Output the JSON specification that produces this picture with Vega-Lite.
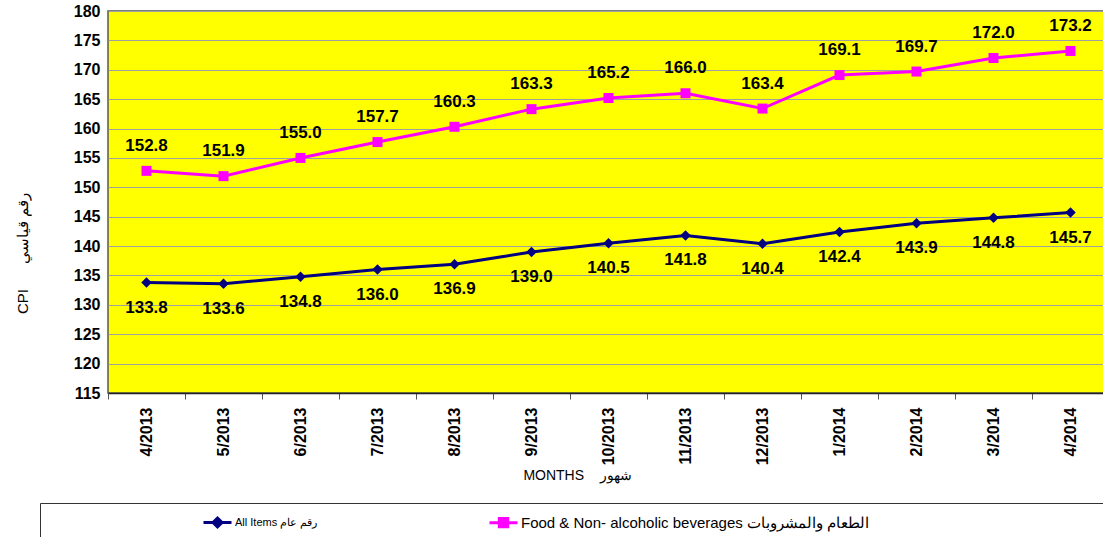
{
  "$schema": "https://vega.github.io/schema/vega-lite/v6.json",
  "autosize": {"type": "none"},
  "padding": {"left": 108, "top": 11, "right": 0, "bottom": 144},
  "width": 1001,
  "height": 382,
  "background": "white",
  "config": {
    "font": "Liberation Sans",
    "view": {"fill": "#FFFF00", "stroke": "#555555", "strokeWidth": 1.5}
  },
  "data": {
    "values": [
      {"month": "4/2013", "series": "All Items رقم عام", "value": 133.8},
      {"month": "5/2013", "series": "All Items رقم عام", "value": 133.6},
      {"month": "6/2013", "series": "All Items رقم عام", "value": 134.8},
      {"month": "7/2013", "series": "All Items رقم عام", "value": 136.0},
      {"month": "8/2013", "series": "All Items رقم عام", "value": 136.9},
      {"month": "9/2013", "series": "All Items رقم عام", "value": 139.0},
      {"month": "10/2013", "series": "All Items رقم عام", "value": 140.5},
      {"month": "11/2013", "series": "All Items رقم عام", "value": 141.8},
      {"month": "12/2013", "series": "All Items رقم عام", "value": 140.4},
      {"month": "1/2014", "series": "All Items رقم عام", "value": 142.4},
      {"month": "2/2014", "series": "All Items رقم عام", "value": 143.9},
      {"month": "3/2014", "series": "All Items رقم عام", "value": 144.8},
      {"month": "4/2014", "series": "All Items رقم عام", "value": 145.7},
      {"month": "4/2013", "series": "Food & Non- alcoholic  beverages  الطعام والمشروبات", "value": 152.8},
      {"month": "5/2013", "series": "Food & Non- alcoholic  beverages  الطعام والمشروبات", "value": 151.9},
      {"month": "6/2013", "series": "Food & Non- alcoholic  beverages  الطعام والمشروبات", "value": 155.0},
      {"month": "7/2013", "series": "Food & Non- alcoholic  beverages  الطعام والمشروبات", "value": 157.7},
      {"month": "8/2013", "series": "Food & Non- alcoholic  beverages  الطعام والمشروبات", "value": 160.3},
      {"month": "9/2013", "series": "Food & Non- alcoholic  beverages  الطعام والمشروبات", "value": 163.3},
      {"month": "10/2013", "series": "Food & Non- alcoholic  beverages  الطعام والمشروبات", "value": 165.2},
      {"month": "11/2013", "series": "Food & Non- alcoholic  beverages  الطعام والمشروبات", "value": 166.0},
      {"month": "12/2013", "series": "Food & Non- alcoholic  beverages  الطعام والمشروبات", "value": 163.4},
      {"month": "1/2014", "series": "Food & Non- alcoholic  beverages  الطعام والمشروبات", "value": 169.1},
      {"month": "2/2014", "series": "Food & Non- alcoholic  beverages  الطعام والمشروبات", "value": 169.7},
      {"month": "3/2014", "series": "Food & Non- alcoholic  beverages  الطعام والمشروبات", "value": 172.0},
      {"month": "4/2014", "series": "Food & Non- alcoholic  beverages  الطعام والمشروبات", "value": 173.2}
    ]
  },
  "encoding": {
    "x": {
      "field": "month",
      "type": "nominal",
      "sort": ["4/2013", "5/2013", "6/2013", "7/2013", "8/2013", "9/2013", "10/2013", "11/2013", "12/2013", "1/2014", "2/2014", "3/2014", "4/2014"],
      "scale": {"paddingInner": 0, "paddingOuter": 0},
      "axis": {
        "title": "MONTHS\u00a0\u00a0\u00a0\u00a0شهور",
        "titleFont": "Liberation Sans",
        "titleFontSize": 14,
        "titleFontWeight": "normal",
        "titleColor": "black",
        "titleX": 469,
        "titleY": 82,
        "titleAlign": "center",
        "titleBaseline": "middle",
        "labelAngle": -90,
        "labelFont": "Liberation Sans",
        "labelFontSize": 16,
        "labelFontWeight": "bold",
        "labelColor": "black",
        "labelPadding": 8,
        "tickBand": "extent",
        "tickColor": "#555555",
        "tickSize": 6,
        "domainColor": "#222222",
        "domainWidth": 1.5,
        "grid": false
      }
    },
    "y": {
      "field": "value",
      "type": "quantitative",
      "scale": {"domain": [115, 180], "nice": false, "zero": false},
      "axis": {
        "values": [115, 120, 125, 130, 135, 140, 145, 150, 155, 160, 165, 170, 175, 180],
        "title": "CPI\u00a0\u00a0\u00a0\u00a0\u00a0\u00a0رقم قياسي",
        "titleFont": "Liberation Sans",
        "titleFontSize": 15,
        "titleFontWeight": "normal",
        "titleColor": "black",
        "titleX": -86,
        "titleY": 242,
        "titleAlign": "center",
        "titleBaseline": "middle",
        "labelFont": "Liberation Sans",
        "labelFontSize": 16,
        "labelFontWeight": "bold",
        "labelColor": "black",
        "labelPadding": 8,
        "ticks": false,
        "domain": false,
        "grid": true,
        "gridColor": "#A0A0A0",
        "gridWidth": 1
      }
    }
  },
  "layer": [
    {
      "mark": {"type": "line", "strokeWidth": 3},
      "encoding": {
        "color": {
          "field": "series",
          "type": "nominal",
          "scale": {
            "domain": ["All Items رقم عام", "Food & Non- alcoholic  beverages  الطعام والمشروبات"],
            "range": ["#000080", "#FF00FF"]
          },
          "legend": {
            "orient": "none",
            "legendX": -68,
            "legendY": 492,
            "direction": "horizontal",
            "title": " ",
            "titleOrient": "right",
            "titlePadding": 223,
            "titleFontSize": 10,
            "strokeColor": "#333333",
            "fillColor": "white",
            "padding": 4,
            "columnPadding": 12,
            "symbolSize": 784,
            "symbolStrokeWidth": 3,
            "symbolOffset": 158,
            "labelOffset": 2,
            "labelFont": "Liberation Sans",
            "labelFontWeight": "normal",
            "labelColor": "black",
            "labelLimit": 2000,
            "encode": {
              "symbols": {
                "update": {
                  "shape": {"signal": "datum.value == 'All Items رقم عام' ? 'M-1,0L1,0M0,-0.32L0.32,0L0,0.32L-0.32,0Z' : 'M-1,0L1,0M-0.3,-0.3L0.3,-0.3L0.3,0.3L-0.3,0.3Z'"},
                  "fill": {"signal": "datum.value == 'All Items رقم عام' ? '#000080' : '#FF00FF'"},
                  "stroke": {"signal": "datum.value == 'All Items رقم عام' ? '#000080' : '#FF00FF'"}
                }
              },
              "labels": {
                "update": {
                  "fontSize": {"signal": "datum.value == 'All Items رقم عام' ? 11 : 15"}
                }
              }
            }
          }
        }
      }
    },
    {
      "transform": [{"filter": "datum.series == 'All Items رقم عام'"}],
      "mark": {"type": "point", "filled": true, "opacity": 1, "size": 110, "shape": "diamond", "color": "#000080"}
    },
    {
      "transform": [{"filter": "datum.series != 'All Items رقم عام'"}],
      "mark": {"type": "point", "filled": true, "opacity": 1, "size": 100, "shape": "square", "color": "#FF00FF"}
    },
    {
      "transform": [{"filter": "datum.series == 'All Items رقم عام'"}],
      "mark": {"type": "text", "dy": 25, "fontSize": 17, "fontWeight": "bold", "font": "Liberation Sans", "color": "black", "baseline": "middle"},
      "encoding": {"text": {"field": "value", "type": "quantitative", "format": ".1f"}}
    },
    {
      "transform": [{"filter": "datum.series != 'All Items رقم عام'"}],
      "mark": {"type": "text", "dy": -25, "fontSize": 17, "fontWeight": "bold", "font": "Liberation Sans", "color": "black", "baseline": "middle"},
      "encoding": {"text": {"field": "value", "type": "quantitative", "format": ".1f"}}
    }
  ]
}
